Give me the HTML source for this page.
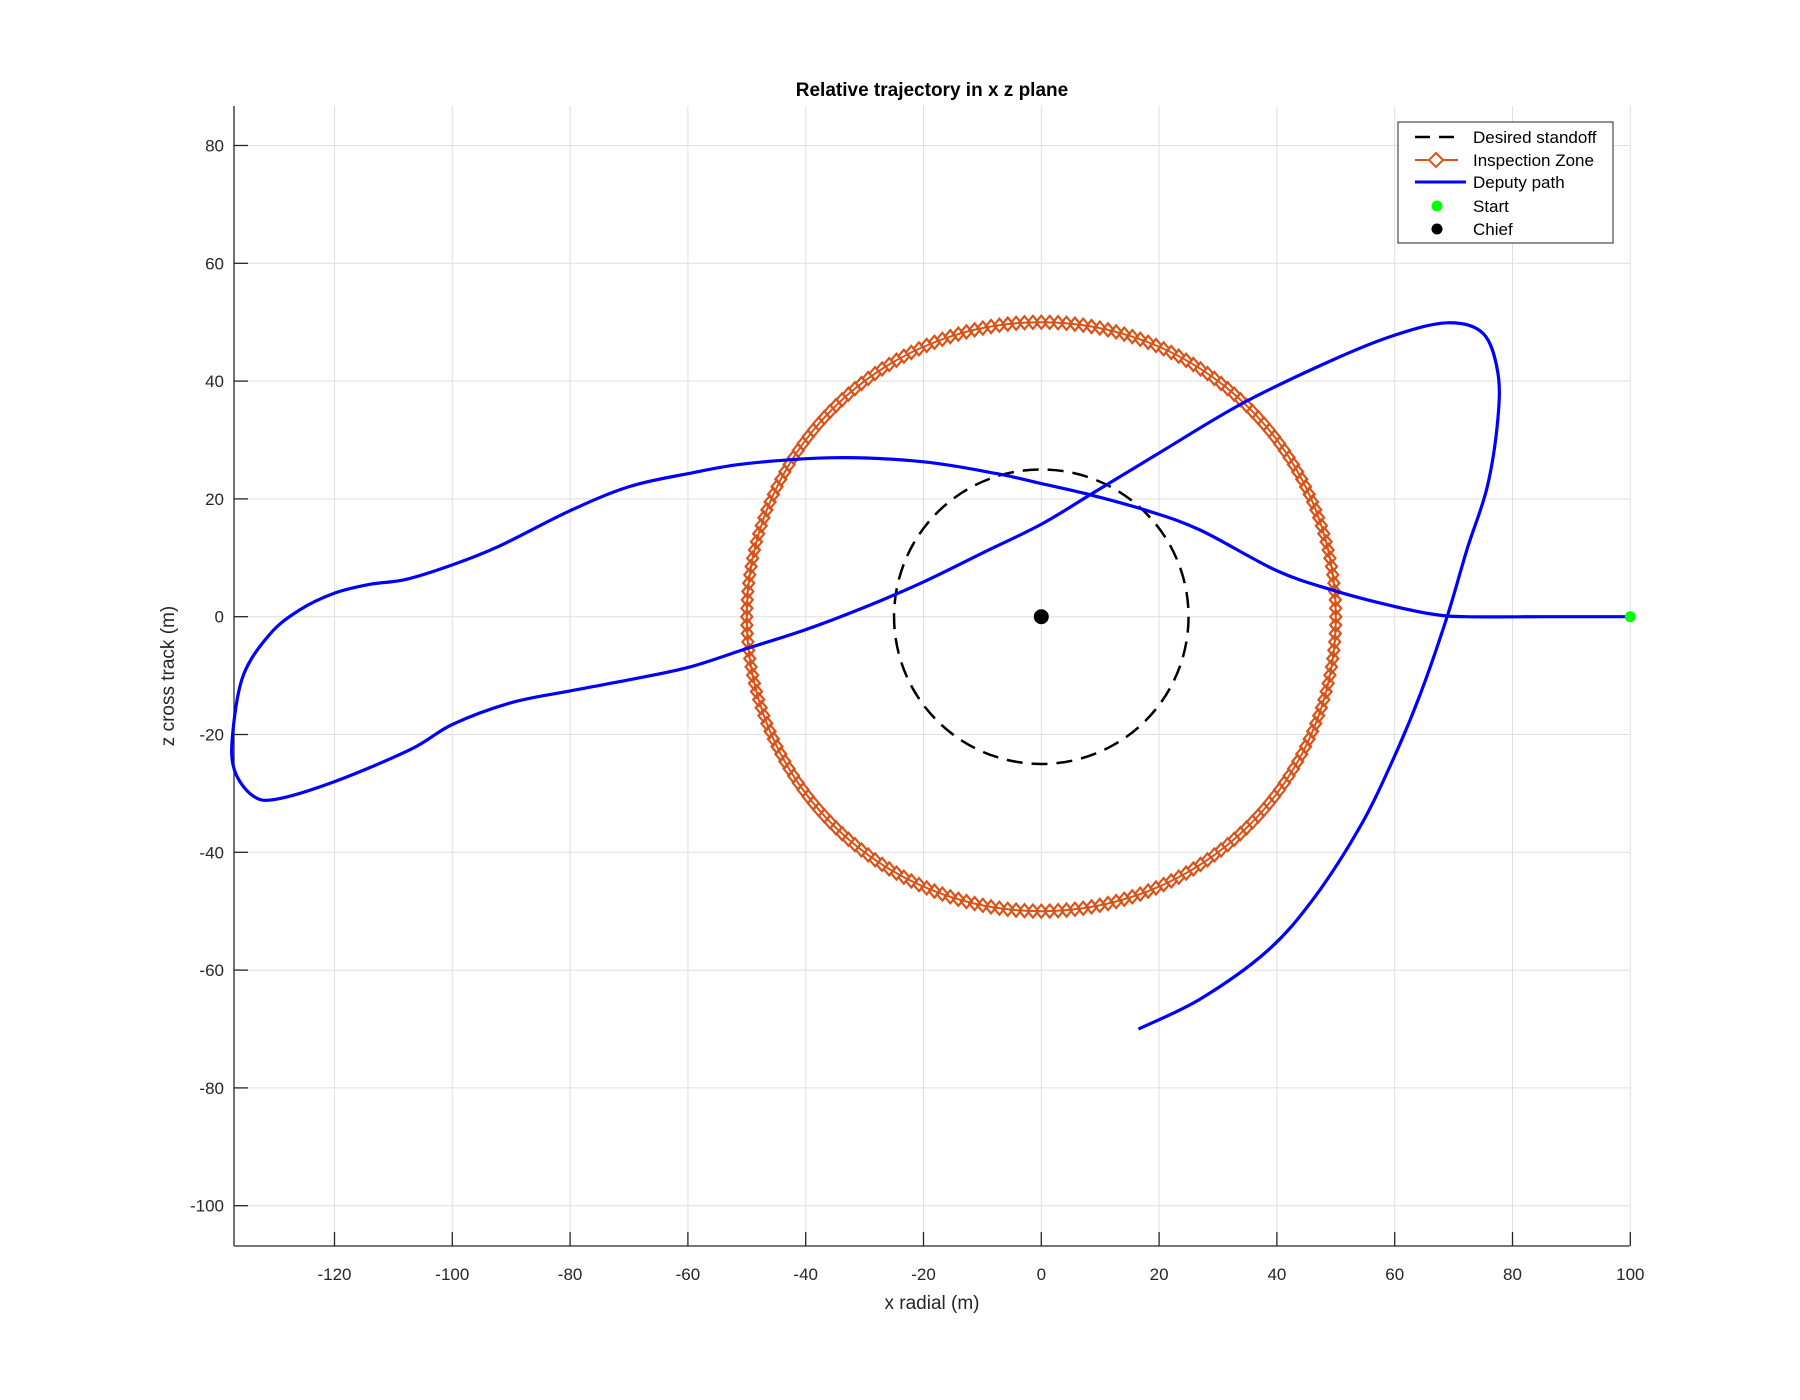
<!DOCTYPE html>
<html><head><meta charset="utf-8"><style>
html,body{margin:0;padding:0;background:#fff;}
svg{display:block;font-family:"Liberation Sans",Arial,sans-serif;}
</style></head><body>
<svg id="s" width="1800" height="1400" viewBox="0 0 1800 1400" xmlns="http://www.w3.org/2000/svg">
<rect width="1800" height="1400" fill="#fff"/>
<g id="grid" stroke="#dfdfdf" stroke-width="1"></g>
<g id="ticks" stroke="#262626" stroke-width="1.3"></g>
<g id="labels" font-size="17" fill="#262626"></g>
<line x1="234" y1="106" x2="234" y2="1246" stroke="#262626" stroke-width="1.3"/>
<line x1="234" y1="1246" x2="1629.5" y2="1246" stroke="#262626" stroke-width="1.3"/>
<g id="plot"></g>
<text x="932" y="96" font-size="19" font-weight="bold" text-anchor="middle" fill="#000">Relative trajectory in x z plane</text>
<text x="932" y="1309" font-size="19" text-anchor="middle" fill="#262626">x radial (m)</text>
<text transform="translate(174,676) rotate(-90)" font-size="19" text-anchor="middle" fill="#262626">z cross track (m)</text>
<g>
<rect x="1398" y="122" width="215" height="121" fill="#fff" stroke="#262626" stroke-width="1"/>
<line x1="1415" y1="137" x2="1458" y2="137" stroke="#000" stroke-width="2.5" stroke-dasharray="15,9"/>
<line x1="1415" y1="160" x2="1458" y2="160" stroke="#D95319" stroke-width="2"/>
<polygon points="1436,153 1443,160 1436,167 1429,160" fill="#fff" stroke="#D95319" stroke-width="2"/>
<line x1="1415" y1="182" x2="1466" y2="182" stroke="#0000ff" stroke-width="3"/>
<circle cx="1437" cy="206" r="5.5" fill="#00ff00"/>
<circle cx="1437" cy="229" r="5.5" fill="#000"/>
<g font-size="17" fill="#000">
<text x="1473" y="143">Desired standoff</text>
<text x="1473" y="166">Inspection Zone</text>
<text x="1473" y="188">Deputy path</text>
<text x="1473" y="212">Start</text>
<text x="1473" y="235">Chief</text>
</g>
</g>
</svg>
<script>
const NS="http://www.w3.org/2000/svg";
const X=x=>1041.3+5.89*x, Y=z=>616.7-5.89*z;
function el(p,t,a,txt){const e=document.createElementNS(NS,t);for(const k in a)e.setAttribute(k,a[k]);if(txt!==undefined)e.textContent=txt;document.getElementById(p).appendChild(e);return e;}
for(let x=-120;x<=100;x+=20){el('grid','line',{x1:X(x),x2:X(x),y1:106,y2:1246});
 el('ticks','line',{x1:X(x),x2:X(x),y1:1246,y2:1232});
 el('labels','text',{x:X(x),y:1280,'text-anchor':'middle'},String(x));}
for(let z=-100;z<=80;z+=20){el('grid','line',{x1:234,x2:1629.5,y1:Y(z),y2:Y(z)});
 el('ticks','line',{x1:234,x2:248,y1:Y(z),y2:Y(z)});
 el('labels','text',{x:224,y:Y(z)+6,'text-anchor':'end'},String(z));}
el('plot','circle',{cx:X(0),cy:Y(0),r:25*5.89,fill:'none',stroke:'#000','stroke-width':2.5,'stroke-dasharray':'16,9'});
el('plot','circle',{cx:X(0),cy:Y(0),r:50*5.89,fill:'none',stroke:'#D95319','stroke-width':2});
const N=220;
for(let i=0;i<N;i++){const a=2*Math.PI*i/N;const cx=X(50*Math.cos(a)),cy=Y(50*Math.sin(a));
 el('plot','polygon',{points:`${cx},${cy-6.5} ${cx+5.5},${cy} ${cx},${cy+6.5} ${cx-5.5},${cy}`,fill:'none',stroke:'#D95319','stroke-width':2.2});}
const P=[[100,0],[86,0],[72,0],[66,0.5],[58,2.2],[49.5,4.5],[40,7.8],[27,14.7],[18,18],[8.3,20.7],[0,22.6],[-7.6,24.3],[-20,26.3],[-34.7,27],[-50,26],[-59.9,24.3],[-69.9,22.1],[-80,18],[-92,12],[-100,8.8],[-108,6.3],[-114,5.5],[-120,4],[-126,1.1],[-131,-3],[-135.5,-10],[-137.3,-20],[-137,-26],[-134,-30.3],[-130,-31],[-120,-28],[-107,-22.5],[-100,-18.3],[-90,-14.6],[-80,-12.6],[-69.9,-10.7],[-59.9,-8.6],[-50,-5.4],[-40,-2.2],[-30,1.6],[-20,5.9],[-10,10.8],[0,15.7],[8.3,20.7],[20,27.8],[34.3,36.3],[49.5,43.6],[59.7,47.7],[68.9,49.9],[75,48.1],[77.5,41.5],[77.5,33.4],[75.7,22],[72.3,11.5],[68.9,0],[64.4,-13],[59.7,-24.3],[54.1,-35.7],[46.2,-47.9],[38.3,-56.8],[27,-64.9],[16.5,-70]].map(p=>[X(p[0]),Y(p[1])]);
let d=`M${P[0][0]},${P[0][1]}`;
for(let i=0;i<P.length-1;i++){const p0=P[Math.max(0,i-1)],p1=P[i],p2=P[i+1],p3=P[Math.min(P.length-1,i+2)];
 const c1=[p1[0]+(p2[0]-p0[0])/6,p1[1]+(p2[1]-p0[1])/6],c2=[p2[0]-(p3[0]-p1[0])/6,p2[1]-(p3[1]-p1[1])/6];
 d+=` C${c1[0]},${c1[1]} ${c2[0]},${c2[1]} ${p2[0]},${p2[1]}`;}
el('plot','path',{d:d,fill:'none',stroke:'#0000ff','stroke-width':3.2,'stroke-linejoin':'round'});
el('plot','circle',{cx:X(100),cy:Y(0),r:5.5,fill:'#00ff00'});
el('plot','circle',{cx:X(0),cy:Y(0),r:7.5,fill:'#000'});
</script>
</body></html>
